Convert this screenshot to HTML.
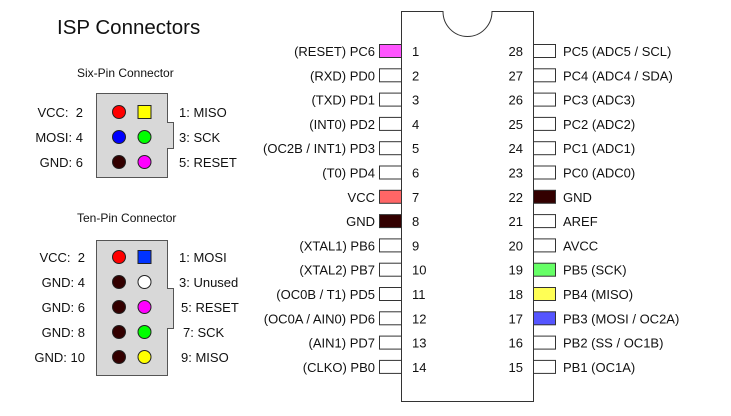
<!DOCTYPE html>
<html><head><style>html,body{margin:0;padding:0;background:#fff}svg{display:block}text{font-family:"Liberation Sans",sans-serif;fill:#111;white-space:pre}</style></head><body>
<svg width="731" height="416" viewBox="0 0 731 416" xmlns="http://www.w3.org/2000/svg">
<text x="57" y="34" font-size="20.5">ISP Connectors</text>
<text x="77" y="77" font-size="12">Six-Pin Connector</text>
<path d="M96.5 93.5H167.5V122.5H173.5V148.5H167.5V177.5H96.5Z" fill="#d8d8d8" stroke="#555"/>
<g stroke="#222" stroke-width="1">
<circle cx="119" cy="112" r="6.5" fill="#f00"/><rect x="138" y="105.5" width="13" height="13" fill="#ff0"/>
<circle cx="119" cy="137" r="6.5" fill="#00f"/><circle cx="144.5" cy="137" r="6.5" fill="#0f0"/>
<circle cx="119" cy="162" r="6.5" fill="#300"/><circle cx="144.5" cy="162" r="6.5" fill="#f0f"/>
</g>
<g font-size="13"><g text-anchor="end"><text x="83" y="117">VCC:  2</text><text x="83" y="142">MOSI: 4</text><text x="83" y="167">GND: 6</text></g>
<text x="179" y="117">1: MISO</text><text x="179" y="142">3: SCK</text><text x="179" y="167">5: RESET</text></g>
<text x="77" y="222" font-size="12">Ten-Pin Connector</text>
<path d="M96.5 240.5H167.5V288.5H173.5V328.5H167.5V375.5H96.5Z" fill="#d8d8d8" stroke="#555"/>
<g stroke="#222" stroke-width="1">
<circle cx="119" cy="257" r="6.5" fill="#f00"/><rect x="138" y="250.5" width="13" height="13" fill="#03f"/>
<circle cx="119" cy="282" r="6.5" fill="#300"/><circle cx="144.5" cy="282" r="6.5" fill="#fff"/>
<circle cx="119" cy="307" r="6.5" fill="#300"/><circle cx="144.5" cy="307" r="6.5" fill="#f0f"/>
<circle cx="119" cy="332" r="6.5" fill="#300"/><circle cx="144.5" cy="332" r="6.5" fill="#0f0"/>
<circle cx="119" cy="357" r="6.5" fill="#300"/><circle cx="144.5" cy="357" r="6.5" fill="#ff0"/>
</g>
<g font-size="13"><g text-anchor="end"><text x="85" y="262">VCC:  2</text><text x="85" y="287">GND: 4</text><text x="85" y="312">GND: 6</text><text x="85" y="337">GND: 8</text><text x="85" y="362">GND: 10</text></g>
<text x="179" y="262">1: MOSI</text><text x="179" y="287">3: Unused</text><text x="181" y="312">5: RESET</text><text x="183" y="337">7: SCK</text><text x="181" y="362">9: MISO</text></g>
<path d="M401.5 11.5H443A24.5 25 0 0 0 492 11.5H533.5V401.5H401.5Z" fill="#fff" stroke="#333"/>
<g id="pins" stroke="#333" font-size="13"></g>
</svg>
<script>
var L=[["(RESET) PC6","#f5f"],["(RXD) PD0"],["(TXD) PD1"],["(INT0) PD2"],["(OC2B / INT1) PD3"],["(T0) PD4"],["VCC","#f66"],["GND","#300"],["(XTAL1) PB6"],["(XTAL2) PB7"],["(OC0B / T1) PD5"],["(OC0A / AIN0) PD6"],["(AIN1) PD7"],["(CLKO) PB0"]];
var R=[["PC5 (ADC5 / SCL)"],["PC4 (ADC4 / SDA)"],["PC3 (ADC3)"],["PC2 (ADC2)"],["PC1 (ADC1)"],["PC0 (ADC0)"],["GND","#300"],["AREF"],["AVCC"],["PB5 (SCK)","#6f6"],["PB4 (MISO)","#ff5"],["PB3 (MOSI / OC2A)","#55f"],["PB2 (SS / OC1B)"],["PB1 (OC1A)"]];
var g=document.getElementById('pins'),s='';
for(var i=0;i<14;i++){var y=51+i*24.3,t=(y-6.5).toFixed(1),b=(y+5).toFixed(1);
s+='<rect x="379.5" y="'+t+'" width="22" height="13" fill="'+(L[i][1]||'#fff')+'"/>';
s+='<text stroke="none" x="375" y="'+b+'" text-anchor="end">'+L[i][0]+'</text>';
s+='<text stroke="none" x="412" y="'+b+'">'+(i+1)+'</text>';
s+='<rect x="533.5" y="'+t+'" width="22" height="13" fill="'+(R[i][1]||'#fff')+'"/>';
s+='<text stroke="none" x="563" y="'+b+'">'+R[i][0]+'</text>';
s+='<text stroke="none" x="523" y="'+b+'" text-anchor="end">'+(28-i)+'</text>';}
g.innerHTML=s;
</script>
</body></html>
